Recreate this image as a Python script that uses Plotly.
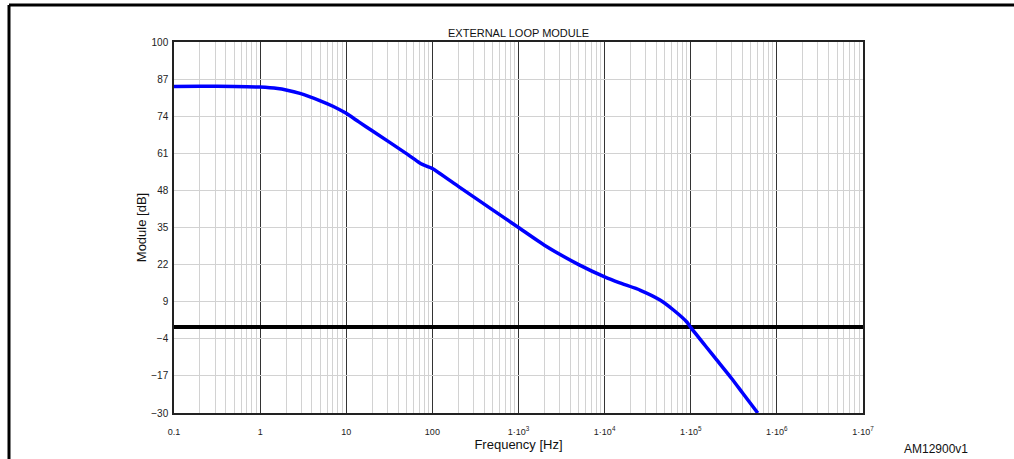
import plotly.graph_objects as go

# Data
freq_hz = [0.1, 0.2, 0.5, 1, 1.6, 2, 2.9, 5, 7, 10, 14, 20, 50, 70, 76.6, 100,
           200, 472, 1000, 2000, 5000, 1e4, 1.5e4, 2.6e4, 4.4e4, 6.3e4, 9e4,
           1e5, 1.5e5, 2e5, 3e5, 4e5, 6e5]
module_db = [84.4, 84.5, 84.4, 84.2, 83.7, 83.2, 82.0, 79.4, 77.5, 75.0, 72.0,
             68.9, 60.9, 57.8, 57.1, 55.7, 49.4, 41.7, 35, 28.8, 22, 17.7,
             15.6, 13.0, 9.6, 6.1, 1.9, 0, -6.7, -11.4, -18, -23, -30]

x_tick_vals = [0.1, 1, 10, 100, 1e3, 1e4, 1e5, 1e6, 1e7]
x_tick_text = ["0.1", "1", "10", "100", "1·10<sup>3</sup>", "1·10<sup>4</sup>",
               "1·10<sup>5</sup>", "1·10<sup>6</sup>", "1·10<sup>7</sup>"]
y_tick_vals = [-30, -17, -4, 9, 22, 35, 48, 61, 74, 87, 100]

title_text = "EXTERNAL LOOP MODULE"
x_title = "Frequency [Hz]"
y_title = "Module [dB]"
code_label = "AM12900v1"

# minor grid positions (2..9 per decade)
minor_vals = [m * 10.0 ** d for d in range(-1, 7) for m in range(2, 10)]

FONT = "Liberation Sans, Arial, sans-serif"

fig = go.Figure()
fig.add_trace(go.Scatter(
    x=freq_hz, y=module_db, mode="lines",
    line=dict(color="#0000ff", width=3.5, shape="spline", smoothing=0.5),
    showlegend=False, hoverinfo="x+y",
))

W, H = 1014, 459
L, R, T, B = 174, 151, 42, 46
pw = W - L - R
ph = H - T - B

fig.update_layout(
    width=W, height=H,
    margin=dict(l=L, r=R, t=T, b=B),
    paper_bgcolor="white", plot_bgcolor="white",
    font=dict(family=FONT, color="#222", size=9),
    showlegend=False,
)

fig.update_xaxes(
    type="log", range=[-1, 7],
    tickmode="array", tickvals=x_tick_vals, ticktext=x_tick_text,
    showgrid=True, gridcolor="#333333", gridwidth=1.3,
    minor=dict(tickmode="array", tickvals=minor_vals, showgrid=True,
               gridcolor="#d2d2d2", gridwidth=1.3, ticks=""),
    showline=True, linecolor="#222", linewidth=1.5, mirror=True,
    ticks="outside", ticklen=9, tickcolor="rgba(0,0,0,0)",
    tickfont=dict(size=9, color="#222"),
    title=dict(text=x_title, font=dict(size=13, color="#111"), standoff=2),
    zeroline=False,
)
fig.update_yaxes(
    range=[-30, 100],
    tickmode="array", tickvals=y_tick_vals,
    showgrid=True, gridcolor="#d2d2d2", gridwidth=1.3,
    showline=True, linecolor="#222", linewidth=1.5, mirror=True,
    ticks="outside", ticklen=2, tickcolor="rgba(0,0,0,0)",
    tickfont=dict(size=10, color="#222"),
    title=dict(text=y_title, font=dict(size=13, color="#111"), standoff=2),
    zeroline=True, zerolinecolor="#000", zerolinewidth=3.5,
)

# plot title
fig.add_annotation(text=title_text, xref="paper", yref="paper", x=0.5,
                   y=1.0, yshift=1, xanchor="center", yanchor="bottom",
                   showarrow=False, font=dict(size=11, color="#111"))
# figure code
fig.add_annotation(text=code_label, xref="paper", yref="paper",
                   x=(970 - L) / pw, y=-(449 - (H - B)) / ph,
                   xanchor="right", yanchor="middle",
                   showarrow=False, font=dict(size=12, color="#111"))

# outer frame lines (top and left)
top_y = 1 + (T - 5) / ph
left_x = (9 - L) / pw
fig.add_shape(type="line", xref="paper", yref="paper",
              x0=left_x, x1=(W + 5 - L) / pw, y0=top_y, y1=top_y,
              line=dict(color="#000", width=3))
fig.add_shape(type="line", xref="paper", yref="paper",
              x0=left_x, x1=left_x, y0=top_y, y1=-(B + 5) / ph,
              line=dict(color="#000", width=3))

fig.write_html("out.html", config={"displayModeBar": False},
               post_script="document.body.style.margin='0';document.body.style.overflow='hidden';")
